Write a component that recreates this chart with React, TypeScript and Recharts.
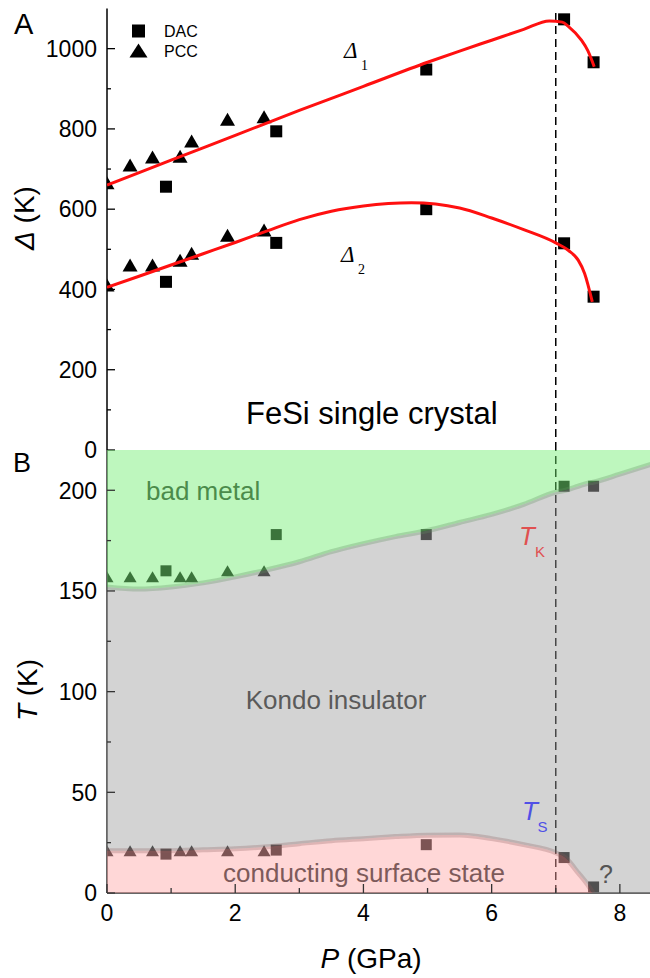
import React from 'react';
import { ComposedChart, Scatter, Line, Area, XAxis, YAxis, ReferenceLine } from 'recharts';

// ---------- data ----------
const dacP = [0.92, 2.64, 4.98, 7.13, 7.59];
const pccP = [0, 0.36, 0.71, 1.14, 1.32, 1.88, 2.45];

const dacDelta1 = [656, 794, 948, 1073, 966];
const pccDelta1 = [666, 710, 730, 732, 770, 824, 830];
const dacDelta2 = [419, 516, 600, 515, 382];
const pccDelta2 = [411, 461, 461, 473, 490, 535, 548];

const fit1P = [0, 1, 2, 3, 4, 5, 5.5, 6, 6.5, 6.9, 7.1, 7.2, 7.4, 7.5, 7.6];
const fit1V = [660, 722, 784, 846, 906, 966, 994, 1021, 1048, 1069, 1066, 1055, 1021, 995, 955];
const fit2P = [0, 0.5, 1, 1.5, 2, 2.5, 3, 3.5, 4, 4.75, 5.5, 6, 6.5, 7, 7.2, 7.35, 7.45, 7.57];
const fit2V = [405, 433, 461, 489, 517, 546, 574, 595, 608, 616, 603, 578, 549, 516, 497, 473, 440, 369];

const dacTK = [160, 178, 178, 202, 202];
const pccTK = [157, 157, 157, 157, 157, 160, 160];
const dacTS = [19.3, 21.3, 24, 17.6, 3];
const pccTS = [21, 21, 21, 21, 21, 21, 21];

const boundP = [0, 0.5, 1, 1.5, 2, 2.5, 3, 3.5, 4, 4.5, 5, 5.5, 6, 6.5, 7, 7.15, 7.35, 7.5, 7.58, 8, 8.5];
const boundTK = [152, 151, 152, 154, 157, 160.5, 164.5, 169.5, 173.5, 177, 180, 184, 188, 193, 199, 200, 202, 203.5, 204, 208, 213];
const boundTS = [21, 21, 21, 21.5, 22, 23, 24.5, 26, 27, 28, 28.7, 28.8, 27, 24, 20, 17.5, 10, 4, 0, 0, 0];

const pTicks = [0, 1, 2, 3, 4, 5, 6, 7, 8];
const deltaTicks = [0, 100, 200, 300, 400, 500, 600, 700, 800, 900, 1000];
const tTicks = [0, 25, 50, 75, 100, 125, 150, 175, 200];
const P_MAX = 8.47;
const DELTA_MAX = 1100;
const T_MAX = 220;
const transitionP = 7.0;

// ---------- helpers ----------
const FONT = '"Liberation Sans", Arial, Helvetica, sans-serif';
const SERIF = '"Liberation Serif", "Times New Roman", serif';

const zip = (xs: number[], ys: number[]) => xs.map((p, i) => ({ p, v: ys[i] }));

const boundary = boundP.map((p, i) => ({ p, tk: boundTK[i], ts: boundTS[i] }));
const tsBand = boundary.filter((d, i) => i === 0 || boundTS[i - 1] > 0);

const squareShape = (s: number, fill: string) => (props: any) => {
  const { cx, cy } = props;
  if (cx == null || cy == null) return <g />;
  return <rect x={cx - s / 2} y={cy - s / 2} width={s} height={s} fill={fill} />;
};
const triShape = (w: number, h: number, fill: string) => (props: any) => {
  const { cx, cy } = props;
  if (cx == null || cy == null) return <g />;
  return (
    <path
      d={`M${cx},${cy - h / 2}L${cx + w / 2},${cy + h / 2}L${cx - w / 2},${cy + h / 2}Z`}
      fill={fill}
    />
  );
};

const leftTick = (isMajor: (v: number) => boolean, color: string) => (props: any) => {
  const { x, y, payload } = props;
  const ax = x + 10;
  const major = isMajor(payload.value);
  return (
    <g>
      <line x1={ax} x2={ax + (major ? 8 : 4)} y1={y} y2={y} stroke={color} strokeWidth={1.3} />
      {major && (
        <text x={x} y={y} dy="0.36em" textAnchor="end" fontSize={23} fontFamily={FONT} fill="#000">
          {payload.value}
        </text>
      )}
    </g>
  );
};
const rightTick = (isMajor: (v: number) => boolean, color: string) => (props: any) => {
  const { x, y, payload } = props;
  const major = isMajor(payload.value);
  return <line x1={x} x2={x - (major ? 8 : 4)} y1={y} y2={y} stroke={color} strokeWidth={1.3} />;
};
const bottomTick = (showLabel: boolean, color: string) => (props: any) => {
  const { x, y, payload } = props;
  const major = payload.value % 2 === 0;
  return (
    <g>
      <line x1={x} x2={x} y1={y} y2={y - (major ? 9 : 5)} stroke={color} strokeWidth={1.3} />
      {showLabel && major && (
        <text x={x} y={y + 20} dy="0.36em" textAnchor="middle" fontSize={23} fontFamily={FONT} fill="#000">
          {payload.value}
        </text>
      )}
    </g>
  );
};
const topTick = (color: string) => (props: any) => {
  const { x, y, payload } = props;
  const major = payload.value % 2 === 0;
  return <line x1={x} x2={x} y1={y} y2={y + (major ? 8 : 5)} stroke={color} strokeWidth={1.3} />;
};

const majorDelta = (v: number) => v % 200 === 0;
const majorT = (v: number) => v % 50 === 0;

// ---------- charts ----------
function TopChart() {
  return (
    <ComposedChart width={650} height={470} margin={{ top: 8.5, right: 0, bottom: 20, left: 0 }}>
      <XAxis
        dataKey="p"
        type="number"
        domain={[0, P_MAX]}
        allowDataOverflow
        ticks={pTicks}
        interval={0}
        height={0}
        tickSize={0}
        tickMargin={0}
        tickLine={false}
        axisLine={{ stroke: '#000', strokeWidth: 1.5 }}
        tick={bottomTick(false, '#000')}
      />
      <XAxis
        xAxisId="top"
        orientation="top"
        dataKey="p"
        type="number"
        domain={[0, P_MAX]}
        allowDataOverflow
        ticks={pTicks}
        interval={0}
        height={0}
        tickSize={0}
        tickMargin={0}
        tickLine={false}
        axisLine={{ stroke: '#000', strokeWidth: 1.5 }}
        tick={topTick('#000')}
      />
      <YAxis
        type="number"
        domain={[0, DELTA_MAX]}
        allowDataOverflow
        ticks={deltaTicks}
        interval={0}
        width={107}
        tickSize={0}
        tickMargin={10}
        tickLine={false}
        axisLine={{ stroke: '#000', strokeWidth: 1.5 }}
        tick={leftTick(majorDelta, '#000')}
      />
      <YAxis
        yAxisId="right"
        orientation="right"
        type="number"
        domain={[0, DELTA_MAX]}
        allowDataOverflow
        ticks={deltaTicks}
        interval={0}
        width={0}
        tickSize={0}
        tickMargin={0}
        tickLine={false}
        axisLine={false}
        tick={rightTick(majorDelta, '#000')}
      />
      <ReferenceLine x={transitionP} stroke="#000" strokeWidth={1.5} strokeDasharray="8 5" />
      <Scatter data={zip(dacP, dacDelta1)} dataKey="v" isAnimationActive={false} shape={squareShape(12, '#000')} />
      <Scatter data={zip(pccP, pccDelta1)} dataKey="v" isAnimationActive={false} shape={triShape(15, 13, '#000')} />
      <Scatter data={zip(dacP, dacDelta2)} dataKey="v" isAnimationActive={false} shape={squareShape(12, '#000')} />
      <Scatter data={zip(pccP, pccDelta2)} dataKey="v" isAnimationActive={false} shape={triShape(15, 13, '#000')} />
      <Line data={zip(fit1P, fit1V)} dataKey="v" type="monotone" stroke="#ff1010" strokeWidth={3} dot={false} activeDot={false} isAnimationActive={false} zIndex={650} />
      <Line data={zip(fit2P, fit2V)} dataKey="v" type="monotone" stroke="#ff1010" strokeWidth={3} dot={false} activeDot={false} isAnimationActive={false} zIndex={650} />
    </ComposedChart>
  );
}

function BottomChart() {
  const axisColor = '#333';
  return (
    <ComposedChart width={650} height={528} margin={{ top: 0, right: 0, bottom: 0, left: 0 }}>
      <XAxis
        dataKey="p"
        type="number"
        domain={[0, P_MAX]}
        allowDataOverflow
        ticks={pTicks}
        interval={0}
        height={85}
        tickSize={0}
        tickMargin={0}
        tickLine={false}
        axisLine={{ stroke: axisColor, strokeWidth: 1.5 }}
        tick={bottomTick(true, axisColor)}
      />
      <XAxis
        xAxisId="top"
        orientation="top"
        dataKey="p"
        type="number"
        domain={[0, P_MAX]}
        allowDataOverflow
        ticks={pTicks}
        interval={0}
        height={0}
        tickSize={0}
        tickMargin={0}
        tickLine={false}
        axisLine={{ stroke: '#000', strokeWidth: 1.5 }}
        tick={topTick('#000')}
      />
      <YAxis
        type="number"
        domain={[0, T_MAX]}
        allowDataOverflow
        ticks={tTicks}
        interval={0}
        width={107}
        tickSize={0}
        tickMargin={10}
        tickLine={false}
        axisLine={{ stroke: axisColor, strokeWidth: 1.5 }}
        tick={leftTick(majorT, axisColor)}
      />
      <YAxis
        yAxisId="right"
        orientation="right"
        type="number"
        domain={[0, T_MAX]}
        allowDataOverflow
        ticks={tTicks}
        interval={0}
        width={0}
        tickSize={0}
        tickMargin={0}
        tickLine={false}
        axisLine={false}
        tick={rightTick(majorT, axisColor)}
      />
      <ReferenceLine x={transitionP} stroke="#000" strokeWidth={1.5} strokeDasharray="8 5" zIndex={300} />
      <Scatter data={zip(dacP, dacTK)} dataKey="v" isAnimationActive={false} shape={squareShape(11, '#111')} zIndex={350} />
      <Scatter data={zip(pccP, pccTK)} dataKey="v" isAnimationActive={false} shape={triShape(13, 11, '#111')} zIndex={350} />
      <Scatter data={zip(dacP, dacTS)} dataKey="v" isAnimationActive={false} shape={squareShape(11, '#111')} zIndex={350} />
      <Scatter data={zip(pccP, pccTS)} dataKey="v" isAnimationActive={false} shape={triShape(13, 11, '#111')} zIndex={350} />
      <Area
        data={boundary}
        dataKey={(d: any) => [d.tk, T_MAX]}
        type="monotone"
        fill="rgb(110,237,110)"
        fillOpacity={0.45}
        stroke="none"
        isAnimationActive={false}
        activeDot={false}
        zIndex={700}
      />
      <Area
        data={boundary}
        dataKey={(d: any) => [d.ts, d.tk]}
        type="monotone"
        fill="rgb(157,157,157)"
        fillOpacity={0.45}
        stroke="none"
        isAnimationActive={false}
        activeDot={false}
        zIndex={700}
      />
      <Area
        data={boundary}
        dataKey="ts"
        type="monotone"
        fill="rgb(255,166,166)"
        fillOpacity={0.45}
        stroke="none"
        isAnimationActive={false}
        activeDot={false}
        zIndex={700}
      />
      <Line data={boundary} dataKey="tk" type="monotone" stroke="#5f8f5f" strokeOpacity={0.3} strokeWidth={5} dot={false} activeDot={false} isAnimationActive={false} zIndex={710} />
      <Line data={tsBand} dataKey="ts" type="monotone" stroke="#8a5a5a" strokeOpacity={0.28} strokeWidth={5} dot={false} activeDot={false} isAnimationActive={false} zIndex={710} />
    </ComposedChart>
  );
}

function Annotations() {
  return (
    <svg width={650} height={978} style={{ position: 'absolute', left: 0, top: 0, pointerEvents: 'none' }}>
      <g fontFamily={FONT}>
        <text x={14} y={34} fontSize={29} fill="#000">A</text>
        <text x={13} y={472} fontSize={27} fill="#000">B</text>

        {/* legend */}
        <rect x={132} y={24.5} width={13} height={13} fill="#000" />
        <path d="M138.5,43.5L147.5,57.5L129.5,57.5Z" fill="#000" />
        <text x={164} y={36.5} fontSize={16} fill="#000">DAC</text>
        <text x={164} y={57} fontSize={16} fill="#000">PCC</text>

        {/* axis titles */}
        <text x={34} y={218} fontSize={28} fill="#000" textAnchor="middle" transform="rotate(-90 34 218)">
          <tspan fontStyle="italic">Δ</tspan> (K)
        </text>
        <text x={36.5} y={690} fontSize={28} fill="#000" textAnchor="middle" transform="rotate(-90 36.5 690)">
          <tspan fontStyle="italic">T</tspan> (K)
        </text>
        <text x={371} y={968} fontSize={28} fill="#000" textAnchor="middle">
          <tspan fontStyle="italic">P</tspan> (GPa)
        </text>

        <text x={246} y={424} fontSize={31} fill="#000">FeSi single crystal</text>

        <text x={146} y={500} fontSize={26} fill="#4b8b4b">bad metal</text>
        <text x={336} y={709} fontSize={26} fill="#5a5a5a" textAnchor="middle">Kondo insulator</text>
        <text x={223} y={882} fontSize={26} fill="#7d5a5a">conducting surface state</text>
        <text x={599} y={883} fontSize={25} fill="#555">?</text>

        <text x={519} y={545} fontSize={26} fill="#e05050" fontStyle="italic">T</text>
        <text x={535} y={557} fontSize={15} fill="#e05050">K</text>
        <text x={522} y={820} fontSize={26} fill="#5050e6" fontStyle="italic">T</text>
        <text x={537.5} y={832} fontSize={15} fill="#5050e6">S</text>
      </g>
      <g fontFamily={SERIF} fill="#000">
        <text x={344} y={58} fontSize={23} fontStyle="italic">Δ</text>
        <text x={361} y={69.5} fontSize={14}>1</text>
        <text x={341} y={262} fontSize={23} fontStyle="italic">Δ</text>
        <text x={358} y={274} fontSize={14}>2</text>
      </g>
    </svg>
  );
}

export default function App() {
  return (
    <div style={{ position: 'absolute', left: 0, top: 0, width: 650, height: 978, background: '#fff' }}>
      <div style={{ position: 'absolute', left: 0, top: 0 }}>
        <TopChart />
      </div>
      <div style={{ position: 'absolute', left: 0, top: 450 }}>
        <BottomChart />
      </div>
      <Annotations />
    </div>
  );
}
